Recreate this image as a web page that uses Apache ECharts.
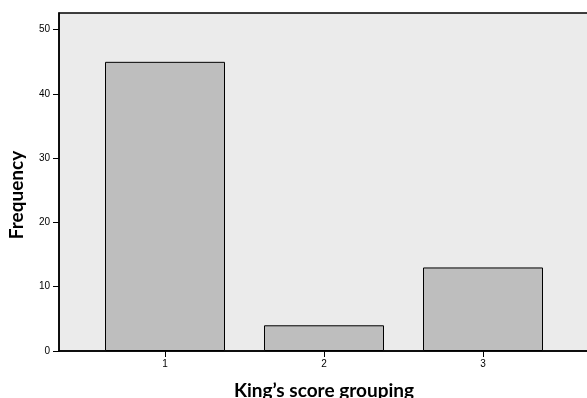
<!DOCTYPE html>
<html>
<head>
<meta charset="utf-8">
<script src="https://cdn.jsdelivr.net/npm/echarts@6/dist/echarts.min.js"></script>
<style>html,body{margin:0;padding:0;background:#fff;}#c{width:587px;height:398px;}</style>
</head>
<body>
<div id="c"></div>
<script>
var categories = [1, 2, 3];
var frequencies = [45, 4, 13];
var yTicks = [0, 10, 20, 30, 40, 50];

var chart = echarts.init(document.getElementById('c'), null, {renderer: 'canvas'});
chart.setOption({
  animation: false,
  grid: {
    left: 59, right: -2, top: 13, bottom: 47,
    outerBoundsMode: 'none', containLabel: false,
    show: true, backgroundColor: '#ebebeb', borderColor: '#000', borderWidth: 1.5
  },
  xAxis: {
    type: 'value', min: 1/3, max: 11/3,
    name: 'King\u2019s score grouping', nameLocation: 'middle', nameGap: 30,
    nameTextStyle: {fontFamily: 'Lato', fontWeight: 'bold', fontSize: 19, color: '#000'},
    axisLine: {show: true, lineStyle: {color: '#000', width: 1.5}},
    axisTick: {show: true, length: 6, customValues: categories, lineStyle: {color: '#000'}},
    axisLabel: {customValues: categories, fontFamily: 'Liberation Sans', fontSize: 10, color: '#000', margin: 8},
    splitLine: {show: false}
  },
  yAxis: {
    type: 'value', min: 0, max: 52.6,
    name: 'Frequency', nameLocation: 'middle', nameGap: 33, nameRotate: 90,
    nameTextStyle: {fontFamily: 'Lato', fontWeight: 'bold', fontSize: 19, color: '#000', padding: [0, 26, 0, 0]},
    axisLine: {show: true, lineStyle: {color: '#000', width: 1.5}},
    axisTick: {show: true, length: 6, customValues: yTicks, lineStyle: {color: '#000'}},
    axisLabel: {customValues: yTicks, fontFamily: 'Liberation Sans', fontSize: 10, color: '#000', margin: 9},
    splitLine: {show: false}
  },
  series: [{
    type: 'bar',
    barWidth: 120,
    data: categories.map(function (c, i) { return [c, frequencies[i]]; }),
    itemStyle: {color: '#bebebe', borderColor: '#000', borderWidth: 1}
  }]
});
</script>
</body>
</html>
